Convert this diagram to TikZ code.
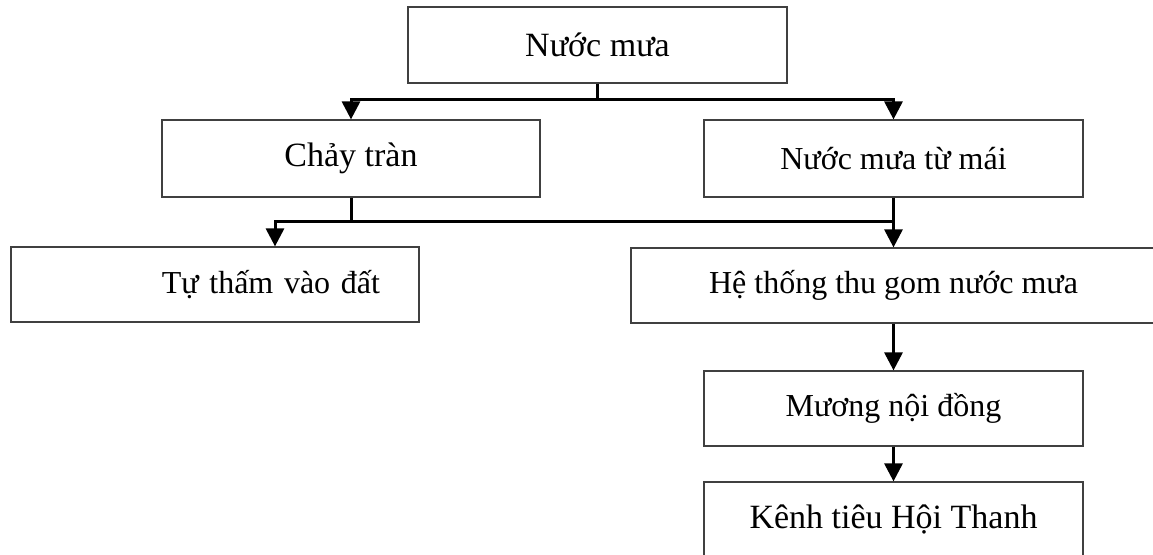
\documentclass[tikz,border=0pt]{standalone}
\usepackage{fontspec}
\setmainfont{Liberation Serif}
\usetikzlibrary{arrows.meta}

\begin{document}
\begin{tikzpicture}[x=0.5pt, y=-0.5pt,
  box/.style={draw=black!75, line width=0.6pt, inner sep=0pt, align=center},
  big/.style={font=\fontsize{17pt}{20pt}\selectfont},
  small/.style={font=\fontsize{16pt}{19pt}\selectfont},
  conn/.style={line width=1.5pt},
  arrow/.style={conn, -{Triangle[length=9pt,width=9pt]}}]
\useasboundingbox (0,0) rectangle (1153,555);
\clip (0,0) rectangle (1153,555);

\node[box, big, minimum width=189.5pt, minimum height=38pt] (rain) at (597.5,45) {Nước mưa};
\node[box, big, minimum width=189pt, minimum height=38.5pt] (overflow) at (351,158.5) {Chảy tràn};
\node[box, small, minimum width=189.5pt, minimum height=38.5pt] (roof) at (893.5,158.5) {Nước mưa từ mái};
\node[box, small, text width=165pt, inner xsep=19.5pt, align=right, minimum height=37.5pt] (soak) at (215,284.5) {Tự thấm vào đất};
\node[box, small, minimum width=262.5pt, minimum height=37.5pt] (collect) at (893.5,285.5) {Hệ thống thu gom nước mưa};
\node[box, small, minimum width=189.5pt, minimum height=37.5pt] (ditch) at (893.5,408.5) {Mương nội đồng};
\node[box, big, minimum width=189.5pt, minimum height=37.5pt] (canal) at (893.5,519.5) {Kênh tiêu Hội Thanh};

\coordinate (j1) at (rain.south |- 0,100);
\coordinate (j2) at (overflow.south |- 0,222);

\draw[conn] (rain.south) -- (j1);
\draw[arrow] (j1) -| (overflow.north);
\draw[arrow] (j1) -| (roof.north);
\draw[conn] (overflow.south) -- (j2);
\draw[arrow] (j2) -| ([xshift=30pt]soak.north);
\draw[conn] (j2) -- (j2 -| roof.south);
\draw[arrow] (roof.south) -- (roof.south |- collect.north);
\draw[arrow] (collect.south -| ditch.north) -- (ditch.north);
\draw[arrow] (ditch) -- (canal);
\end{tikzpicture}
\end{document}
